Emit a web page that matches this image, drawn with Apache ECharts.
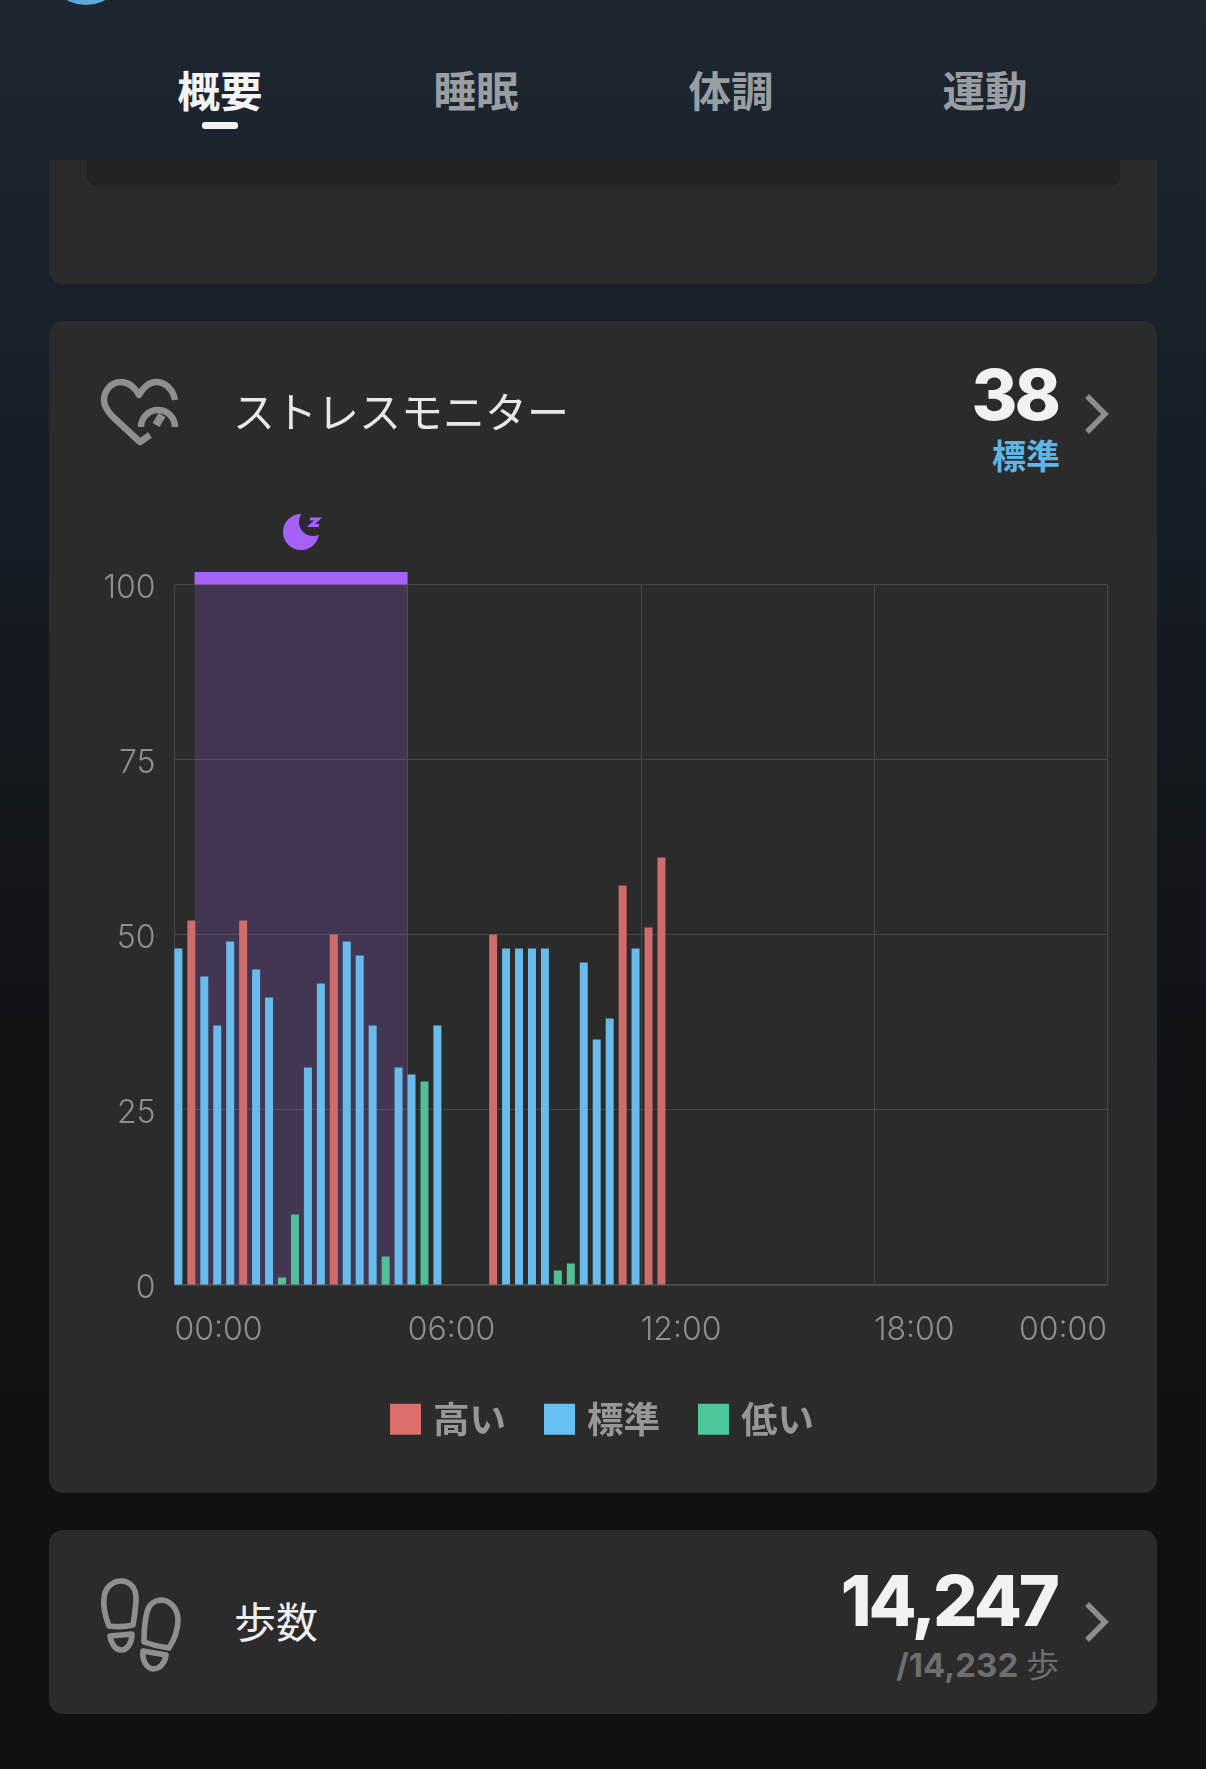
<!DOCTYPE html>
<html lang="ja"><head><meta charset="utf-8">
<script src="https://cdn.jsdelivr.net/npm/echarts@6/dist/echarts.min.js"></script>
<style>
html,body{margin:0;padding:0;width:1206px;height:1769px;overflow:hidden}
body{position:relative;background:linear-gradient(#1e2731 0,#19212a 300px,#14191f 700px,#101214 1150px,#101010 1769px);font-family:"Noto Sans CJK JP",sans-serif}
.a{position:absolute;white-space:nowrap;line-height:1}
.card{position:absolute;left:49px;width:1108px;background:#2b2b2b;border-radius:14px}
.tab{position:absolute;top:68px;width:120px;text-align:center;font-size:42.5px;font-weight:700;line-height:1;color:#9a9ea3}
#chart{position:absolute;left:0;top:0;width:1206px;height:1769px}
.num{font-family:Inter,sans-serif;font-weight:800;color:#f2f2f2;text-align:right;right:148px;letter-spacing:-3px}
svg{position:absolute;overflow:visible}
</style></head><body>
<div class="card" style="top:-40px;height:324px"></div>
<div class="a" style="left:87px;top:130px;width:1033px;height:55px;background:#222;border-radius:8px"></div>
<div class="a" style="left:0;top:0;width:1206px;height:160px;background:linear-gradient(#1e2731 0,#1b242d 160px)"></div>
<div class="a" style="left:46px;top:-75px;width:80px;height:80px;border-radius:50%;background:#5da9dc"></div>
<div class="tab" style="left:160px;color:#f4f4f4">概要</div>
<div class="tab" style="left:416px">睡眠</div>
<div class="tab" style="left:671px">体調</div>
<div class="tab" style="left:925px">運動</div>
<div class="a" style="left:202px;top:122px;width:36px;height:7px;border-radius:3px;background:#f2f2f2"></div>

<div class="card" style="top:321px;height:1172px"></div>
<div class="card" style="top:1530px;height:184px"></div>

<svg style="left:90px;top:365px" width="100" height="95" viewBox="0 0 100 95" fill="none" stroke="#8f8f8f" stroke-width="6.5" stroke-linejoin="round">
<path d="M85 35C83 24 75 17 66 17C58 17 53 23 49 30C45 23 39 17 31 17C21 17 14 26 14 35C14 42 18 47 23 52L50 77L60 70"/>
<path d="M51 62A17 17 0 0 1 85 62"/>
<path d="M66 60L72 50" stroke-width="8"/>
</svg>
<svg style="left:90px;top:1570px" width="100" height="110" viewBox="0 0 100 110" fill="none" stroke="#8f8f8f" stroke-width="5.6" stroke-linejoin="round">
<path d="M19 56C15 46 13 36 14 28C15 17 23 11 31 11C40 11 46 18 46 28C46 38 44 48 43 55C35 57 27 57 19 56Z"/>
<path d="M20 66L42 64C42 72 38 80 31 80C25 80 21 73 20 66Z"/>
<path d="M54 72C54 60 55 50 57 42C59 34 65 30 72 30C80 31 88 38 88 50C88 60 84 70 79 78C70 77 62 75 54 72Z"/>
<path d="M53 81L76 85C75 93 70 99 63 99C56 98 52 90 53 81Z"/>
</svg>
<svg style="left:0;top:0" width="1206" height="1769" fill="none" stroke="#8c8c8c" stroke-width="5.5">
<path d="M1087 396L1105 414L1087 432"/><path d="M1087 1604L1105 1622L1087 1640"/>
<circle cx="301" cy="532" r="18" fill="#a562f5" stroke="none"/>
<circle cx="313" cy="522" r="14" fill="#2b2b2b" stroke="none"/>
<path d="M310 519H318L311 525.5H319" stroke="#a562f5" stroke-width="3.2"/>
</svg>

<div class="a num" style="top:360px;font-size:70px">38</div>
<div class="a" style="right:146px;top:438px;font-size:34px;font-weight:700;color:#5fb5e5">標準</div>
<div class="a" style="left:234px;top:1599px;font-size:42px;color:#efefef">歩数</div>
<div class="a num" style="top:1566px;font-size:70px;right:149px">14,247</div>
<div class="a num" style="top:1647px;font-size:33px;color:#6e6e6e;font-weight:700;letter-spacing:0;right:147px">/14,232 <span style="font-family:'Noto Sans CJK JP';font-weight:400">歩</span></div>

<div id="chart"></div>
<script>
// Chart values
var chartTitle = 'ストレスモニター';
var levelNames = ['高い', '標準', '低い'];
var yTicks = [0, 25, 50, 75, 100];
var xTickLabels = ['00:00', '06:00', '12:00', '18:00', '00:00'];
// minute of day of each bar centre
var times = [6,26,46,66,86,106,126,146,166,186,206,226,246,266,286,306,326,346,366,386,406,
             492,512,532,552,572,592,612,632,652,672,692,712,732,752];
var stress = [48,52,44,37,49,52,45,41,1,10,31,43,50,49,47,37,4,31,30,29,37,
              50,48,48,48,48,2,3,46,35,38,57,48,51,61];
var levels = [1,0,1,1,1,0,1,1,2,2,1,1,0,1,1,1,2,1,1,2,1,
              0,1,1,1,1,2,2,1,1,1,0,1,0,0];
var sleepRange = [31, 360];

var barColors = ['#cf6c6c', '#68bbea', '#52c096'];
var legendColors = ['#de6d6d', '#66c1f2', '#4cc799'];
function pointsOf(level) {
  var out = [];
  times.forEach(function (t, i) { if (levels[i] === level) out.push([t, stress[i]]); });
  return out;
}
var chart = echarts.init(document.getElementById('chart'), null, {renderer: 'canvas'});
var labelStyle = {color: '#8f8f8f', fontFamily: 'Inter, sans-serif', fontWeight: 300, fontSize: 32};
var series = levelNames.map(function (name, k) {
  return {
    name: name, type: 'bar', data: pointsOf(k), barWidth: 8, barGap: '-100%', z: 3,
    itemStyle: {color: barColors[k]}, animation: false
  };
});
series.push({
  type: 'custom', silent: true, z: 1, animation: false,
  data: [sleepRange], encode: {x: [0, 1]},
  renderItem: function (params, api) {
    var x0 = api.coord([api.value(0), 100]), x1 = api.coord([api.value(1), 0]);
    var stripTop = api.coord([api.value(0), 101.8])[1];
    return {type: 'group', children: [
      {type: 'rect', shape: {x: x0[0], y: x0[1], width: x1[0] - x0[0], height: x1[1] - x0[1]},
       style: {fill: 'rgba(165,98,245,0.2)'}},
      {type: 'rect', shape: {x: x0[0], y: stripTop, width: x1[0] - x0[0], height: x0[1] - stripTop},
       style: {fill: '#a562f5'}}
    ]};
  }
});
chart.setOption({
  animation: false,
  backgroundColor: 'transparent',
  title: {text: chartTitle, left: 228, top: 386,
    textStyle: {color: '#e8e8e8', fontSize: 42, fontWeight: 400, fontFamily: '"Noto Sans CJK JP", sans-serif'}},
  grid: {left: 174.5, top: 584.5, width: 932.5, height: 700},
  legend: {
    left: 390, top: 1401, padding: 0, itemWidth: 31, itemHeight: 31, itemGap: 38, icon: 'rect',
    data: levelNames.map(function (n, k) { return {name: n, itemStyle: {color: legendColors[k]}}; }),
    textStyle: {color: '#979797', fontSize: 36.5, fontWeight: 700, padding: [0, 0, 0, 7],
      fontFamily: '"Noto Sans CJK JP", sans-serif'}
  },
  xAxis: {
    type: 'value', min: 0, max: 1440, interval: 360,
    axisTick: {show: false},
    axisLine: {show: true, lineStyle: {color: '#505050', width: 1.5}},
    splitLine: {show: true, lineStyle: {color: '#464646', width: 1.2}},
    axisLabel: Object.assign({}, labelStyle, {margin: 30, align: 'left', alignMaxLabel: 'right',
      formatter: function (v) { return xTickLabels[v / 360]; }})
  },
  yAxis: {
    type: 'value', min: yTicks[0], max: yTicks[yTicks.length - 1], interval: 25,
    axisLine: {show: false}, axisTick: {show: false},
    splitLine: {show: true, lineStyle: {color: '#464646', width: 1.2}},
    axisLabel: {margin: 19, formatter: '{t|{value}}',
      rich: {t: Object.assign({}, labelStyle, {padding: [7, 0, 0, 0]})}}
  },
  series: series
});
</script>
</body></html>
